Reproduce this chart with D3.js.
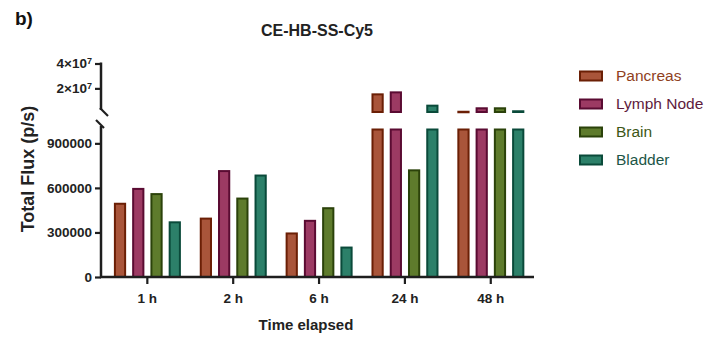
<!DOCTYPE html>
<html>
<head>
<meta charset="utf-8">
<script src="https://cdn.jsdelivr.net/npm/d3@7"></script>
<style>
  body { margin: 0; background: #fff; }
  text { font-family: Arial, "Liberation Sans", sans-serif; }
</style>
</head>
<body>
<svg id="chart" width="726" height="345"></svg>
<script>
// data
const times = ['1 h', '2 h', '6 h', '24 h', '48 h'];
const organs = ['Pancreas', 'Lymph Node', 'Brain', 'Bladder'];
const pancreas = [500000, 400000, 300000, 16000000, 2000000];
const lymphNode = [600000, 720000, 385000, 17600000, 4800000];
const brain = [565000, 535000, 470000, 725000, 4800000];
const bladder = [375000, 690000, 205000, 6900000, 2400000];
const lowerTicks = [0, 300000, 600000, 900000];
const upperTicks = [20000000, 40000000];

const seriesValues = [pancreas, lymphNode, brain, bladder];
const fills = ['#a9553a', '#9c3a63', '#5e7b2c', '#2c8069'];
const strokes = ['#6b1f05', '#5a0b32', '#2b420a', '#0a4a3a'];
const textColors = ['#8f3f1e', '#5e1a3c', '#3d5716', '#1c5647'];

const svg = d3.select('#chart');
const axisColor = '#1e1e1e';
const axisX = 101;
const breakAt = 1000000;

// two y segments (broken axis)
const yLow = d3.scaleLinear().domain([0, breakAt]).range([277, 128.5]);
const yHigh = d3.scaleLinear().domain([breakAt, 40000000]).range([112, 63.5]);

const x0 = d3.scaleBand().domain(times).range([104.4, 533.7]);
const x1 = d3.scaleBand().domain(organs).range([9.5, 76.5]).paddingInner(0.33);

const rows = times.map((t, i) => ({
    time: t,
    values: organs.map((o, j) => ({ organ: o, k: j, value: seriesValues[j][i] }))
}));

// bars
const groups = svg.selectAll('g.grp')
    .data(rows)
    .enter()
    .append('g')
    .attr('class', 'grp')
    .attr('transform', d => `translate(${x0(d.time)},0)`);

function drawPart(sel, top, bottom) {
    sel.append('rect')
        .attr('x', d => x1(d.organ) + 1)
        .attr('width', x1.bandwidth() - 2)
        .attr('y', d => top(d) + 1)
        .attr('height', d => Math.max(0.5, bottom(d) - top(d) - 1))
        .attr('fill', d => fills[d.k])
        .attr('stroke', d => strokes[d.k])
        .attr('stroke-width', 2);
}

const lowBars = groups.selectAll('g.low')
    .data(d => d.values)
    .enter().append('g').attr('class', 'low');
drawPart(lowBars, d => yLow(Math.min(d.value, breakAt)), d => yLow(0));

const highBars = groups.selectAll('g.high')
    .data(d => d.values.filter(v => v.value > breakAt))
    .enter().append('g').attr('class', 'high');
drawPart(highBars, d => yHigh(d.value), d => yHigh(breakAt));

// lower y axis
const lowAxis = svg.append('g')
    .attr('transform', `translate(${axisX},0)`)
    .call(d3.axisLeft(yLow).tickValues(lowerTicks).tickFormat(d3.format('d')).tickSize(6).tickSizeOuter(0));
lowAxis.select('.domain').remove();
lowAxis.append('line')
    .attr('x1', 0).attr('x2', 0)
    .attr('y1', yLow(0) + 1).attr('y2', 126)
    .attr('stroke', axisColor).attr('stroke-width', 2.5);

// upper y axis
const highAxis = svg.append('g')
    .attr('transform', `translate(${axisX},0)`)
    .call(d3.axisLeft(yHigh).tickValues(upperTicks).tickFormat(() => '').tickSize(6).tickSizeOuter(0));
highAxis.select('.domain').remove();
highAxis.append('line')
    .attr('x1', 0).attr('x2', 0)
    .attr('y1', yHigh(40000000) - 1).attr('y2', 110)
    .attr('stroke', axisColor).attr('stroke-width', 2.5);
highAxis.selectAll('.tick text').remove();
highAxis.selectAll('.tick').append('text')
    .attr('x', -9).attr('dy', '0.32em')
    .attr('text-anchor', 'end')
    .attr('fill', '#222')
    .style('font-size', '13.5px').style('font-weight', 'bold')
    .each(function(d) {
        const t = d3.select(this);
        t.append('tspan').text(`${d / 10000000}×10`);
        t.append('tspan').attr('dy', '-0.45em').style('font-size', '9px').text('7');
    });

// break marks
svg.append('line')
    .attr('x1', axisX - 1).attr('y1', 108).attr('x2', axisX + 7).attr('y2', 116)
    .attr('stroke', axisColor).attr('stroke-width', 2.2);
svg.append('line')
    .attr('x1', axisX - 5).attr('y1', 120).attr('x2', axisX + 3).attr('y2', 128)
    .attr('stroke', axisColor).attr('stroke-width', 2.2);

[lowAxis, highAxis].forEach(a => {
    a.selectAll('.tick line').attr('stroke', axisColor).attr('stroke-width', 2.2);
});
lowAxis.selectAll('.tick text')
    .attr('x', -9)
    .attr('fill', '#222')
    .style('font-size', '13.5px').style('font-weight', 'bold');

// x axis
const xAxis = svg.append('g')
    .attr('transform', 'translate(0,277)')
    .call(d3.axisBottom(x0).tickSize(7).tickSizeOuter(0));
xAxis.select('.domain').remove();
xAxis.append('line')
    .attr('x1', axisX - 1).attr('x2', 534)
    .attr('y1', 0).attr('y2', 0)
    .attr('stroke', axisColor).attr('stroke-width', 2.5);
xAxis.selectAll('.tick line').attr('stroke', axisColor).attr('stroke-width', 2.2);
xAxis.selectAll('.tick text')
    .attr('y', 16)
    .attr('fill', '#222')
    .style('font-size', '13.5px').style('font-weight', 'bold');

// titles
svg.append('text')
    .attr('x', 15).attr('y', 25)
    .style('font-size', '19px').style('font-weight', 'bold')
    .attr('fill', '#111')
    .text('b)');

svg.append('text')
    .attr('x', 317).attr('y', 36)
    .attr('text-anchor', 'middle')
    .style('font-size', '16px').style('font-weight', 'bold')
    .attr('fill', '#222')
    .text('CE-HB-SS-Cy5');

svg.append('text')
    .attr('transform', 'translate(34,169) rotate(-90)')
    .attr('text-anchor', 'middle')
    .style('font-size', '18px').style('font-weight', 'bold')
    .attr('fill', '#222')
    .text('Total Flux (p/s)');

svg.append('text')
    .attr('x', 306).attr('y', 330)
    .attr('text-anchor', 'middle')
    .style('font-size', '15px').style('font-weight', 'bold')
    .attr('fill', '#222')
    .text('Time elapsed');

// legend
const legend = svg.selectAll('g.leg')
    .data(organs)
    .enter()
    .append('g')
    .attr('class', 'leg')
    .attr('transform', (d, i) => `translate(580,${76 + i * 28})`);
legend.append('rect')
    .attr('x', 0).attr('y', -4.5)
    .attr('width', 22).attr('height', 9)
    .attr('fill', (d, i) => fills[i])
    .attr('stroke', (d, i) => strokes[i])
    .attr('stroke-width', 2);
legend.append('text')
    .attr('x', 36).attr('y', 0).attr('dy', '0.35em')
    .style('font-size', '15.5px')
    .attr('fill', (d, i) => textColors[i])
    .text(d => d);
</script>
</body>
</html>
